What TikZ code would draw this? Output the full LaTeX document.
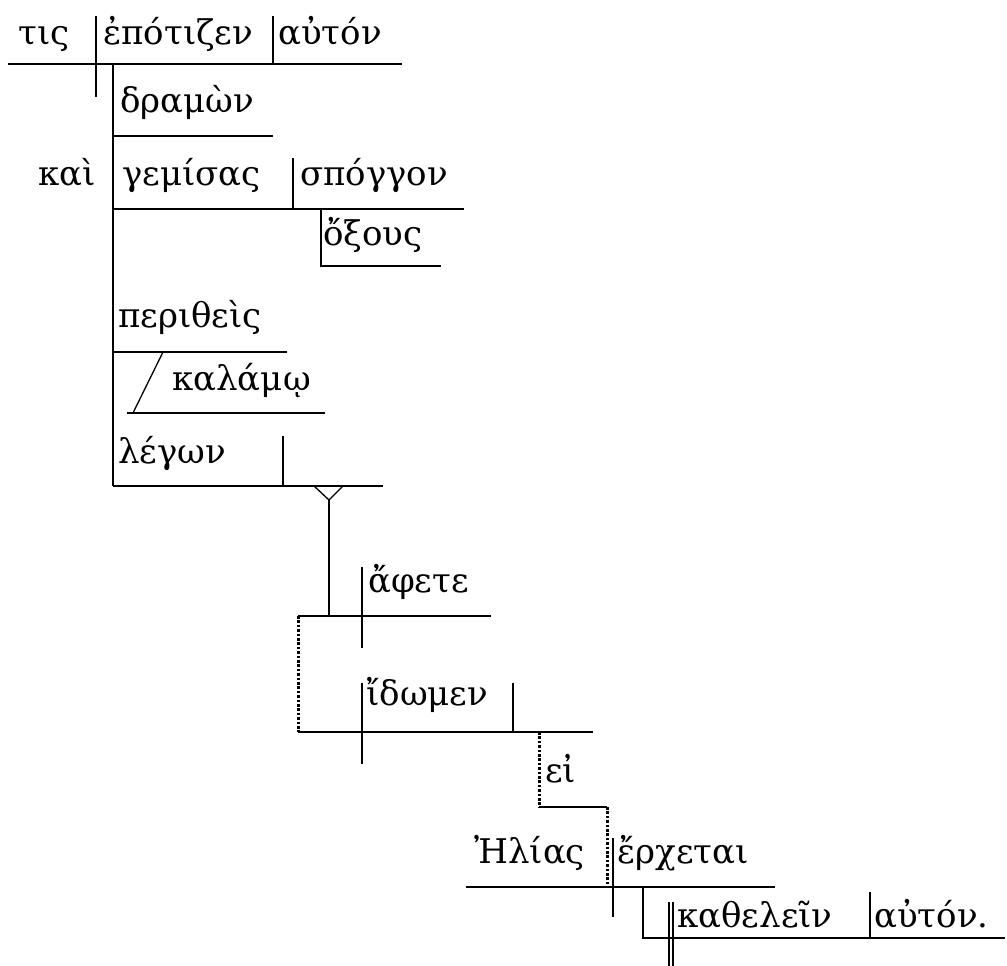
\documentclass[tikz,border=0pt]{standalone}
\usepackage{fontspec}
\setmainfont{DejaVu Serif}
\begin{document}
\begin{tikzpicture}[x=1pt,y=-1pt,
  word/.style={anchor=base west,inner sep=0pt,font=\fontsize{34}{40}\selectfont},
  ln/.style={line width=1.3pt},
  dl/.style={line width=3pt,dash pattern=on 2.6pt off 1.8pt}]
\useasboundingbox (0,0) rectangle (1007,966);
% words
\node[word] (tis) at (18,45) {τις};
\node[word] (epotizen) at (103,45) {ἐπότιζεν};
\node[word] (auton1) at (278,45) {αὐτόν};
\node[word] (dramon) at (120,112) {δραμὼν};
\node[word] (kai) at (38,185) {καὶ};
\node[word] (gemisas) at (122,185) {γεμίσας};
\node[word] (spongon) at (300,185) {σπόγγον};
\node[word] (oxous) at (323,245) {ὄξους};
\node[word] (peritheis) at (118,327) {περιθεὶς};
\node[word] (kalamo) at (172,390) {καλάμῳ};
\node[word] (legon) at (118,463) {λέγων};
\node[word] (aphete) at (368,592) {ἄφετε};
\node[word] (idomen) at (366,705) {ἴδωμεν};
\node[word] (ei) at (545,782) {εἰ};
\node[word] (elias) at (474,863) {Ἠλίας};
\node[word] (erchetai) at (617,863) {ἔρχεται};
\node[word] (kathelein) at (677,927) {καθελεῖν};
\node[word] (auton2) at (874,927) {αὐτόν.};
% main clause
\draw[ln] (8,64) -- (402,64);
\draw[ln] (96,16) -- (96,97);
\draw[ln] (273,16) -- (273,64);
\draw[ln] (113,64) -- (113,486);
\draw[ln] (113,136) -- (273,136);
\draw[ln] (113,209) -- (464,209);
\draw[ln] (293,158) -- (293,209);
\draw[ln] (321,209) -- (321,266) -- (441,266);
\draw[ln] (113,352) -- (287,352);
\draw[ln] (163,352) -- (133,413);
\draw[ln] (127,413) -- (325,413);
\draw[ln] (113,486) -- (383,486);
\draw[ln] (283,436) -- (283,486);
% pedestal
\draw[ln] (314,486) -- (329,500) -- (343,486);
\draw[ln] (329,500) -- (329,616);
% afete
\draw[ln] (298,616) -- (491,616);
\draw[ln] (362,567) -- (362,648);
\draw[dl] (298,616) -- (298,732);
% idomen
\draw[ln] (298,732) -- (593,732);
\draw[ln] (362,683) -- (362,764);
\draw[ln] (513,683) -- (513,732);
% ei
\draw[dl] (539,732) -- (539,807);
\draw[ln] (539,807) -- (607,807);
\draw[dl] (607,807) -- (607,887);
% Elias
\draw[ln] (466,887) -- (775,887);
\draw[ln] (613,838) -- (613,917);
\draw[ln] (643,887) -- (643,938) -- (1005,938);
\draw[ln] (669,902) -- (669,966);
\draw[ln] (673,902) -- (673,966);
\draw[ln] (870,892) -- (870,938);
\end{tikzpicture}
\end{document}
